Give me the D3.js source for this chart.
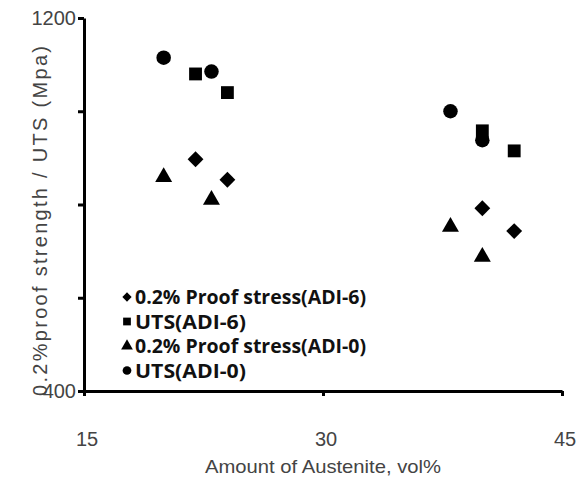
<!DOCTYPE html>
<html>
<head>
<meta charset="utf-8">
<script src="https://cdn.jsdelivr.net/npm/d3@7"></script>
<style>
  body { margin: 0; background: #fff; }
</style>
</head>
<body>
<script>
// Define dimensions
var width = 584,
    height = 479;

// Data
var seriesNames = ["0.2% Proof stress(ADI-6)", "UTS(ADI-6)", "0.2% Proof stress(ADI-0)", "UTS(ADI-0)"];
var proofADI6 = [{x: 22, y: 897}, {x: 24, y: 853}, {x: 40, y: 792}, {x: 42, y: 743}];
var utsADI6   = [{x: 22, y: 1080}, {x: 24, y: 1040}, {x: 40, y: 958}, {x: 42, y: 915}];
var proofADI0 = [{x: 20, y: 859}, {x: 23, y: 810}, {x: 38, y: 752}, {x: 40, y: 688}];
var utsADI0   = [{x: 20, y: 1115}, {x: 23, y: 1085}, {x: 38, y: 1000}, {x: 40, y: 938}];
var xTicks = [15, 30, 45];
var yTicks = [400, 600, 800, 1000, 1200];
var yTickLabels = [400, 1200];

var series = [
  {name: seriesNames[0], values: proofADI6, symbol: d3.symbolDiamond2},
  {name: seriesNames[1], values: utsADI6, symbol: d3.symbolSquare},
  {name: seriesNames[2], values: proofADI0, symbol: d3.symbolTriangle},
  {name: seriesNames[3], values: utsADI0, symbol: d3.symbolCircle}
];

// Scales
var x = d3.scaleLinear().domain([15, 45]).range([84, 562]);
var y = d3.scaleLinear().domain([400, 1200]).range([391, 18]);

var svg = d3.select("body")
    .append("svg")
    .attr("width", width)
    .attr("height", height);

var labelColor = "#444";
var axisFont = "'Liberation Sans', Arial, sans-serif";

// Axes
var xAxis = svg.append("g")
    .attr("transform", "translate(0," + y(400) + ")")
    .call(d3.axisBottom(x).tickValues(xTicks).tickSize(5).tickSizeOuter(0).tickFormat(""));
var yAxis = svg.append("g")
    .attr("transform", "translate(" + x(15) + ",0)")
    .call(d3.axisLeft(y).tickValues(yTicks).tickSize(6).tickSizeOuter(0).tickFormat(""));

[xAxis, yAxis].forEach(function(g) {
  g.select(".domain").attr("stroke", "#000").attr("stroke-width", 3);
  g.selectAll(".tick line").attr("stroke", "#000").attr("stroke-width", 3);
});

// Tick labels
svg.selectAll(".xlab")
    .data(xTicks)
    .enter().append("text")
    .attr("x", d => x(d) + 3)
    .attr("y", 446)
    .attr("text-anchor", "middle")
    .attr("font-family", axisFont)
    .attr("font-size", "20px")
    .attr("fill", labelColor)
    .text(d => d);

svg.selectAll(".ylab")
    .data(yTickLabels)
    .enter().append("text")
    .attr("x", 76)
    .attr("y", d => y(d) + 7)
    .attr("text-anchor", "end")
    .attr("font-family", axisFont)
    .attr("font-size", "20px")
    .attr("fill", labelColor)
    .text(d => d);

// Axis titles
svg.append("text")
    .attr("x", 323)
    .attr("y", 473)
    .attr("text-anchor", "middle")
    .attr("font-family", axisFont)
    .attr("font-size", "19px")
    .attr("fill", labelColor)
    .attr("textLength", 236)
    .attr("lengthAdjust", "spacingAndGlyphs")
    .text("Amount of Austenite, vol%");

svg.append("text")
    .attr("transform", "translate(47,221) rotate(-90)")
    .attr("text-anchor", "middle")
    .attr("font-family", axisFont)
    .attr("font-size", "20px")
    .attr("fill", labelColor)
    .attr("textLength", 350)
    .attr("lengthAdjust", "spacing")
    .text("0.2%proof strength  / UTS (Mpa)");

// Points
series.forEach(function(s) {
  svg.selectAll(null)
      .data(s.values)
      .enter().append("path")
      .attr("transform", d => "translate(" + x(d.x) + "," + y(d.y) + ")")
      .attr("d", d3.symbol().type(s.symbol).size(s.symbol === d3.symbolTriangle ? 125 : s.symbol === d3.symbolDiamond2 ? 160 : 165))
      .attr("fill", "#000");
});

// Legend
var legend = svg.append("g");
series.forEach(function(s, i) {
  var ly = 297 + i * 24.5;
  legend.append("path")
      .attr("transform", "translate(127," + ly + ")")
      .attr("d", d3.symbol().type(s.symbol).size(s.symbol === d3.symbolDiamond2 ? 55 : 60))
      .attr("fill", "#000");
  legend.append("text")
      .attr("x", 135)
      .attr("y", ly + 7)
      .attr("font-family", "'Liberation Sans Narrow', 'Open Sans', sans-serif")
      .attr("font-size", "19px")
      .attr("font-weight", "bold")
      .attr("fill", "#111")
      .attr("textLength", i % 2 === 0 ? 231 : 111)
      .attr("lengthAdjust", "spacingAndGlyphs")
      .text(s.name);
});
</script>
</body>
</html>
